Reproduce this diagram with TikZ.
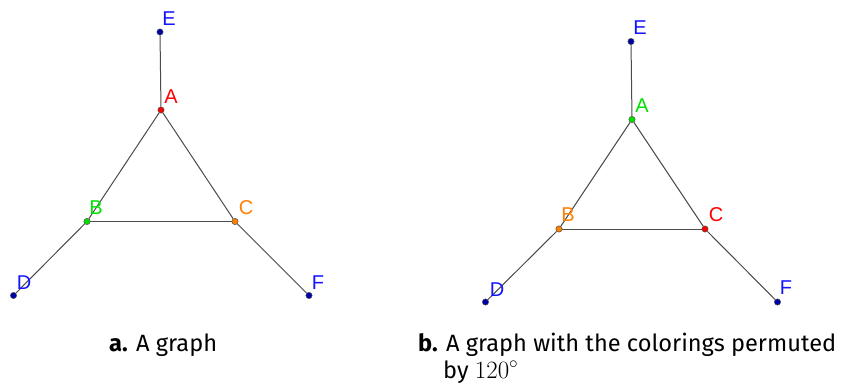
\documentclass[tikz,border=0pt]{standalone}
\usepackage{fontspec}
\setmainfont{Fira Sans}
\newfontfamily\lblfont{Liberation Sans}
\definecolor{vred}{RGB}{255,0,0}
\definecolor{vgreen}{RGB}{0,225,0}
\definecolor{vorange}{RGB}{255,127,0}
\definecolor{vblue}{RGB}{0,0,170}
\definecolor{lblue}{RGB}{20,20,255}
\definecolor{edgegray}{RGB}{75,75,75}
\begin{document}
\begin{tikzpicture}[x=1pt,y=-1pt,
  vtx/.style={circle,draw=black!70,line width=0.5pt,inner sep=0pt,minimum size=6.3pt},
  lbl/.style={font=\lblfont\fontsize{20}{20}\selectfont,inner sep=0pt,anchor=center},
  edge/.style={draw=edgegray,line width=1pt},
  captxt/.style={font=\fontsize{23.6}{27}\selectfont,inner sep=0pt,anchor=base west,align=left}]
\useasboundingbox (0,0) rectangle (841,385);
% left graph
\node[vtx,fill=vblue] (E1) at (160,32) {};
\node[vtx,fill=vred] (A1) at (161,110) {};
\node[vtx,fill=vgreen] (B1) at (87,221.5) {};
\node[vtx,fill=vorange] (C1) at (235,221.5) {};
\node[vtx,fill=vblue] (D1) at (13.5,295.5) {};
\node[vtx,fill=vblue] (F1) at (309,295.5) {};
\draw[edge] (E1) -- (A1);
\draw[edge] (A1) -- (B1);
\draw[edge] (A1) -- (C1);
\draw[edge] (B1) -- (C1);
\draw[edge] (B1) -- (D1);
\draw[edge] (C1) -- (F1);
\node[lbl,text=lblue] (lE1) at (169,19) {E};
\node[lbl,text=vred] (lA1) at (171,97) {A};
\node[lbl,text=vgreen] (lB1) at (96,208) {B};
\node[lbl,text=vorange] (lC1) at (246,208) {C};
\node[lbl,text=lblue] (lD1) at (24,283) {D};
\node[lbl,text=lblue] (lF1) at (318,283) {F};
% right graph
\node[vtx,fill=vblue] (E2) at (631,41.5) {};
\node[vtx,fill=vgreen] (A2) at (632,119.5) {};
\node[vtx,fill=vorange] (B2) at (559,229) {};
\node[vtx,fill=vred] (C2) at (705,229) {};
\node[vtx,fill=vblue] (D2) at (485.5,302) {};
\node[vtx,fill=vblue] (F2) at (777.5,302) {};
\draw[edge] (E2) -- (A2);
\draw[edge] (A2) -- (B2);
\draw[edge] (A2) -- (C2);
\draw[edge] (B2) -- (C2);
\draw[edge] (B2) -- (D2);
\draw[edge] (C2) -- (F2);
\node[lbl,text=lblue] (lE2) at (640,28) {E};
\node[lbl,text=vgreen] (lA2) at (642,106) {A};
\node[lbl,text=vorange] (lB2) at (568,215) {B};
\node[lbl,text=vred] (lC2) at (716,215) {C};
\node[lbl,text=lblue] (lD2) at (497,290) {D};
\node[lbl,text=lblue] (lF2) at (786,288) {F};
% captions
\node[captxt] (capa) at (109,351) {\textbf{a.} A graph};
\node[captxt] (capb) at (418,378) {\textbf{b.} A graph with the colorings permuted\\\hspace*{25pt}by $120^\circ$};
\end{tikzpicture}
\end{document}
